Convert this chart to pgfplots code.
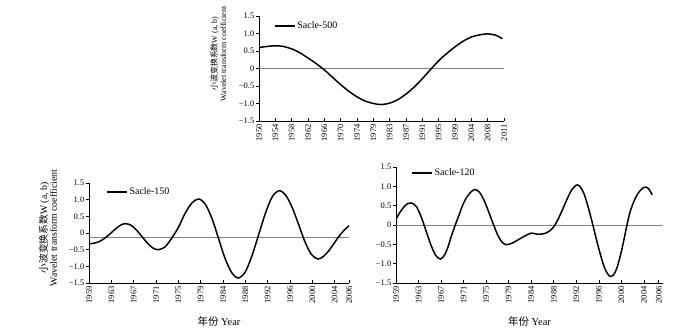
\documentclass[border=0pt]{standalone}
\usepackage{pgfplots}
\pgfplotsset{compat=1.18}
\usepackage{fontspec}
\setmainfont{Liberation Serif}
\newfontfamily\cjk{Noto Sans CJK SC}
\definecolor{refgray}{RGB}{128,128,128}
\pgfplotsset{
  wstyle/.style={
    scale only axis,
    axis x line*=bottom, axis y line*=left,
    axis line style={black, line width=0.6bp},
    ymin=-1.5, ymax=1.5,
    ytick={-1.5,-1,-0.5,0,0.5,1,1.5},
    yticklabels={−1.5,−1.0,−0.5,0,0.5,1.0,1.5},
    xtick align=inside, ytick align=outside,
    major tick length=3bp,
    tick style={black, line width=0.5bp},
    ticklabel style={font=\fontsize{8.5}{9}\selectfont},
    xticklabel style={rotate=90, anchor=east},
    yticklabel style={inner sep=1.5bp},
    legend style={draw=none, fill=none, font=\fontsize{10}{12}\selectfont, inner sep=0pt, anchor=west},
    legend image code/.code={\draw[#1] (0bp,0bp) -- (20bp,0bp);},
    legend cell align=left,
  }
}
\begin{document}
\begin{tikzpicture}
\useasboundingbox (0,0) rectangle (700bp,-333bp);
% ---------- top: Sacle-500
\begin{axis}[wstyle,
  at={(259bp,-121bp)}, anchor=south west,
  width=245bp, height=105bp,
  xmin=0, xmax=15,
  xtick={0,...,15},
  xticklabels={1950,1954,1958,1962,1966,1970,1974,1979,1983,1987,1991,1995,1999,2004,2008,2011},
  ylabel={\cjk 小波变换系数\rmfamily W (a, b)\\Wavelet transform coefficient},
  ylabel style={at={(rel axis cs:-0.166,0.64)}, anchor=center, align=center, font=\fontsize{8}{9}\selectfont},
  legend style={at={(rel axis cs:0.06,0.905)}},
]
\addplot[refgray, line width=0.8bp, forget plot] coordinates {(0,0) (15,0)};
\addplot[black, line width=1.5bp, smooth] coordinates {
(0,0.60) (0.5,0.63) (1,0.65) (1.5,0.63) (2,0.56) (2.5,0.45) (3,0.30) (3.5,0.14)
(4,-0.04) (4.5,-0.25) (5,-0.46) (5.5,-0.65) (6,-0.81) (6.5,-0.93) (7,-1.00)
(7.5,-1.03) (8,-0.99) (8.5,-0.89) (9,-0.73) (9.5,-0.53) (10,-0.29) (10.5,-0.03)
(11,0.22) (11.5,0.43) (12,0.62) (12.5,0.78) (13,0.90) (13.5,0.96) (14,0.99)
(14.5,0.95) (14.9,0.85)};
\addlegendentry{Sacle-500}
\end{axis}
% ---------- bottom left: Sacle-150
\begin{axis}[wstyle,
  at={(89bp,-283bp)}, anchor=south west,
  width=260bp, height=100bp,
  xmin=0, xmax=11.64,
  xtick={0,1,2,3,4,5,6,7,8,9,10,11,11.64},
  xticklabels={1959,1963,1967,1971,1975,1979,1984,1988,1992,1996,2000,2004,2006},
  ylabel={\cjk 小波变换系数\rmfamily W (a, b)\\Wavelet transform coefficient},
  ylabel style={at={(rel axis cs:-0.158,0.55)}, anchor=center, align=center, font=\fontsize{9.8}{10}\selectfont},
  xlabel={\cjk 年份\rmfamily\ Year},
  xlabel style={at={(rel axis cs:0.5,-0.39)}, anchor=center, font=\fontsize{10.5}{12}\selectfont},
  legend style={at={(rel axis cs:0.065,0.91)}},
]
\addplot[refgray, line width=0.8bp, forget plot] coordinates {(0,-0.14) (11.64,-0.14)};
\addplot[black, line width=1.5bp, smooth] coordinates {
(0,-0.32) (0.2,-0.31) (0.45,-0.26) (0.7,-0.16) (0.95,-0.02) (1.2,0.13) (1.45,0.25) (1.65,0.28)
(1.89,0.23) (2.13,0.085) (2.375,-0.11) (2.62,-0.305) (2.86,-0.45) (3.1,-0.50)
(3.4,-0.42) (3.71,-0.15) (4.01,0.18) (4.31,0.60) (4.62,0.91) (4.92,1.02)
(5.21,0.86) (5.51,0.43) (5.80,-0.165) (6.09,-0.76) (6.39,-1.19) (6.68,-1.35)
(6.99,-1.175) (7.29,-0.695) (7.60,-0.04) (7.91,0.615) (8.21,1.094) (8.52,1.27)
(8.81,1.13) (9.10,0.76) (9.39,0.245) (9.67,-0.267) (9.96,-0.643) (10.25,-0.78)
(10.5,-0.70) (10.75,-0.52) (11.0,-0.28) (11.25,-0.05) (11.45,0.10) (11.64,0.22)};
\addlegendentry{Sacle-150}
\end{axis}
% ---------- bottom right: Sacle-120
\begin{axis}[wstyle,
  at={(396bp,-283bp)}, anchor=south west,
  width=267bp, height=116bp,
  xmin=0, xmax=11.85,
  xtick={0,1,2,3,4,5,6,7,8,9,10,11,11.66},
  xticklabels={1959,1963,1967,1971,1975,1979,1984,1988,1992,1996,2000,2004,2006},
  xlabel={\cjk 年份\rmfamily\ Year},
  xlabel style={at={(rel axis cs:0.5,-0.336)}, anchor=center, font=\fontsize{10.5}{12}\selectfont},
  legend style={at={(rel axis cs:0.056,0.95)}},
]
\addplot[refgray, line width=0.8bp, forget plot] coordinates {(0,0) (11.85,0)};
\addplot[black, line width=1.5bp, smooth] coordinates {
(0,0.15) (0.2,0.35) (0.4,0.50) (0.55,0.56) (0.7,0.57)
(0.91,0.47) (1.12,0.21) (1.335,-0.155) (1.55,-0.517) (1.76,-0.783) (1.97,-0.88)
(2.15,-0.78) (2.3,-0.58) (2.45,-0.30) (2.63,0.00) (2.8,0.26) (2.95,0.50) (3.1,0.68)
(3.3,0.84) (3.5,0.92)
(3.7,0.85) (3.9,0.65) (4.1,0.36) (4.3,0.05) (4.5,-0.24) (4.7,-0.44) (4.9,-0.51)
(5.15,-0.47) (5.4,-0.39) (5.7,-0.29) (6.0,-0.21) (6.3,-0.24) (6.6,-0.22) (6.85,-0.14)
(7.0,-0.05) (7.15,0.10) (7.3,0.28) (7.45,0.48) (7.6,0.68) (7.75,0.86) (7.9,0.98) (8.05,1.04)
(8.2,0.97) (8.35,0.80) (8.5,0.52) (8.65,0.20) (8.8,-0.15) (8.95,-0.50) (9.1,-0.82)
(9.25,-1.10) (9.4,-1.27) (9.52,-1.33)
(9.65,-1.29) (9.8,-1.12) (9.98,-0.74) (10.12,-0.37) (10.25,0.00) (10.4,0.36)
(10.55,0.60) (10.7,0.78) (10.85,0.90) (11.0,0.97) (11.1,0.98) (11.22,0.93) (11.37,0.78)};
\addlegendentry{Sacle-120}
\end{axis}
\end{tikzpicture}
\end{document}
